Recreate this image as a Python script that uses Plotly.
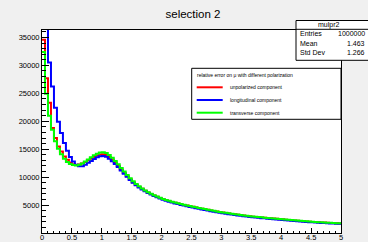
import numpy as np
import plotly.graph_objects as go

# ---- data (100 bins, width 0.05, from 0 to 5) ----
bin_lo = 0.0
bin_hi = 5.0
n_bins = 100

unpolarized = [
    34600, 27700, 23300, 18800, 17000, 15500, 14600, 13700, 13100, 12600,
    12300, 12150, 12250, 12450, 12700, 13000, 13300, 13600, 13850, 14050,
    14100, 13950, 13600, 13150, 12600, 12000, 11350, 10750, 10150, 9600,
    9100, 8650, 8250, 7900, 7550, 7250, 6980, 6720, 6480, 6270,
    6070, 5890, 5730, 5570, 5430, 5290, 5160, 5030, 4910, 4790,
    4680, 4570, 4480, 4350, 4250, 4140, 4040, 3950, 3840, 3750,
    3660, 3580, 3500, 3420, 3340, 3260, 3210, 3120, 3050, 2990,
    2930, 2880, 2830, 2780, 2730, 2680, 2630, 2600, 2530, 2480,
    2440, 2390, 2340, 2300, 2250, 2210, 2160, 2120, 2070, 2030,
    1990, 1960, 1920, 1890, 1860, 1830, 1800, 1770, 1740, 1710,
]

longitudinal = [
    41000, 37500, 30500, 26200, 22400, 19900, 17900, 16100, 14700, 13600,
    12800, 12200, 11950, 11950, 12200, 12550, 12900, 13250, 13550, 13750,
    13800, 13650, 13300, 12850, 12350, 11800, 11200, 10600, 10050, 9500,
    9000, 8550, 8150, 7800, 7450, 7150, 6880, 6620, 6380, 6170,
    5970, 5770, 5610, 5450, 5300, 5170, 5030, 4900, 4780, 4660,
    4550, 4440, 4330, 4220, 4120, 4010, 3910, 3810, 3720, 3620,
    3540, 3450, 3370, 3300, 3220, 3140, 3070, 3000, 2940, 2870,
    2820, 2760, 2710, 2660, 2620, 2570, 2520, 2470, 2420, 2380,
    2330, 2280, 2240, 2190, 2150, 2110, 2070, 2020, 1980, 1940,
    1910, 1870, 1840, 1810, 1780, 1750, 1720, 1700, 1670, 1650,
]

transverse = [
    32400, 24900, 21000, 18500, 16400, 15100, 14100, 13300, 12700, 12350,
    12150, 12100, 12200, 12450, 12800, 13150, 13550, 13900, 14200, 14400,
    14450, 14300, 13950, 13450, 12900, 12300, 11650, 11000, 10400, 9800,
    9250, 8780, 8350, 7980, 7620, 7310, 7030, 6760, 6520, 6300,
    6100, 5920, 5760, 5600, 5460, 5320, 5190, 5060, 4940, 4820,
    4710, 4600, 4490, 4380, 4280, 4170, 4070, 3970, 3870, 3780,
    3690, 3610, 3530, 3450, 3370, 3290, 3220, 3150, 3080, 3020,
    2960, 2910, 2850, 2800, 2750, 2700, 2650, 2600, 2550, 2500,
    2460, 2410, 2360, 2320, 2270, 2230, 2180, 2140, 2090, 2050,
    2010, 1980, 1940, 1910, 1880, 1850, 1820, 1790, 1760, 1730,
]

series_names = ["unpolarized component", "longitudinal component", "transverse component"]
series_colors = ["#ff0000", "#0000ff", "#00ff00"]

title_text = "selection 2"
legend_header = "relative error on \u03bc with different polarization"
stats_name = "mulpr2"
stats_labels = ["Entries", "Mean", "Std Dev"]
stats_values = ["1000000", "1.463", "1.266"]

y_tickvals = [5000, 10000, 15000, 20000, 25000, 30000, 35000]
y_max = 36330

# ---- figure ----
W, H = 368, 242
L, R, T, B = 42, 341, 30, 233  # plot frame in pixels
FONT = "Liberation Sans, Arial, Helvetica, sans-serif"


def px(x):
    return (x - L) / (R - L)


def py(y):
    return (B - y) / (B - T)


edges = np.linspace(bin_lo, bin_hi, n_bins + 1)

fig = go.Figure()
for vals, name, col in zip([unpolarized, longitudinal, transverse], series_names, series_colors):
    yv = list(vals) + [vals[-1]]
    fig.add_trace(go.Scatter(
        x=edges, y=yv, mode="lines", name=name,
        line=dict(color=col, width=2, shape="hv"),
        showlegend=False, hoverinfo="skip",
    ))

axis_common = dict(
    showgrid=False, zeroline=False, showline=True, mirror=True,
    linecolor="#000000", linewidth=1,
    ticks="inside", tickcolor="#000000", tickwidth=1,
    tickfont=dict(family=FONT, size=7.5, color="#000000"),
)

fig.update_xaxes(
    range=[bin_lo, bin_hi], dtick=0.5, tick0=0, ticklen=5,
    ticklabelstandoff=-3,
    minor=dict(ticks="inside", dtick=0.1, ticklen=2.5, tickcolor="#000000"),
    **axis_common,
)
fig.update_yaxes(
    range=[0, y_max], tickvals=y_tickvals, tickformat="d", ticklen=7,
    minor=dict(ticks="inside", dtick=1000, tick0=0, ticklen=3.5, tickcolor="#000000"),
    **axis_common,
)

shapes = []
annotations = []

# legend box
shapes.append(dict(type="rect", xref="paper", yref="paper",
                   x0=px(191.7), x1=px(341), y0=py(119.3), y1=py(68.3),
                   line=dict(color="#000000", width=1), fillcolor="#ffffff", layer="above"))
annotations.append(dict(xref="paper", yref="paper", x=px(195), y=py(75),
                        text=legend_header, showarrow=False, xanchor="left", yanchor="middle",
                        font=dict(family=FONT, size=5, color="#000000")))
for i, (name, col) in enumerate(zip(series_names, series_colors)):
    yy = 87.3 + 12.7 * i
    shapes.append(dict(type="line", xref="paper", yref="paper",
                       x0=px(196.7), x1=px(222.7), y0=py(yy), y1=py(yy),
                       line=dict(color=col, width=2), layer="above"))
    annotations.append(dict(xref="paper", yref="paper", x=px(228), y=py(yy),
                            text=name, showarrow=False, xanchor="left", yanchor="middle",
                            font=dict(family=FONT, size=5, color="#000000")))

# stats box (extends past the right edge of the canvas)
shapes.append(dict(type="rect", xref="paper", yref="paper",
                   x0=px(296), x1=px(372), y0=py(60.3), y1=py(20.5),
                   line=dict(color="#000000", width=1), fillcolor="#ffffff", layer="above"))
shapes.append(dict(type="line", xref="paper", yref="paper",
                   x0=px(296), x1=px(372), y0=py(29.3), y1=py(29.3),
                   line=dict(color="#000000", width=1), layer="above"))
annotations.append(dict(xref="paper", yref="paper", x=px(329), y=py(25),
                        text=stats_name, showarrow=False, xanchor="center", yanchor="middle",
                        font=dict(family=FONT, size=7, color="#000000")))
for i, (lab, val) in enumerate(zip(stats_labels, stats_values)):
    yy = 33.8 + 9.3 * i
    annotations.append(dict(xref="paper", yref="paper", x=px(298), y=py(yy),
                            text=lab, showarrow=False, xanchor="left", yanchor="middle",
                            font=dict(family=FONT, size=7, color="#000000")))
    annotations.append(dict(xref="paper", yref="paper", x=px(367), y=py(yy),
                            text=val, showarrow=False, xanchor="right", yanchor="middle",
                            font=dict(family=FONT, size=7, color="#000000")))

fig.update_layout(
    width=W, height=H,
    margin=dict(l=L, r=W - R, t=T, b=H - B, autoexpand=False),
    paper_bgcolor="#f0f0f0", plot_bgcolor="#ffffff",
    title=dict(text=title_text, x=193 / W, y=1 - 14 / H, xanchor="center", yanchor="middle",
               xref="container", yref="container",
               font=dict(family=FONT, size=11.5, color="#000000")),
    shapes=shapes, annotations=annotations,
    showlegend=False,
)

fig.write_html(
    "out.html",
    config={"displayModeBar": False, "staticPlot": True},
    post_script="document.body.style.margin='0';document.body.style.padding='0';"
                "document.body.style.overflow='hidden';",
)
